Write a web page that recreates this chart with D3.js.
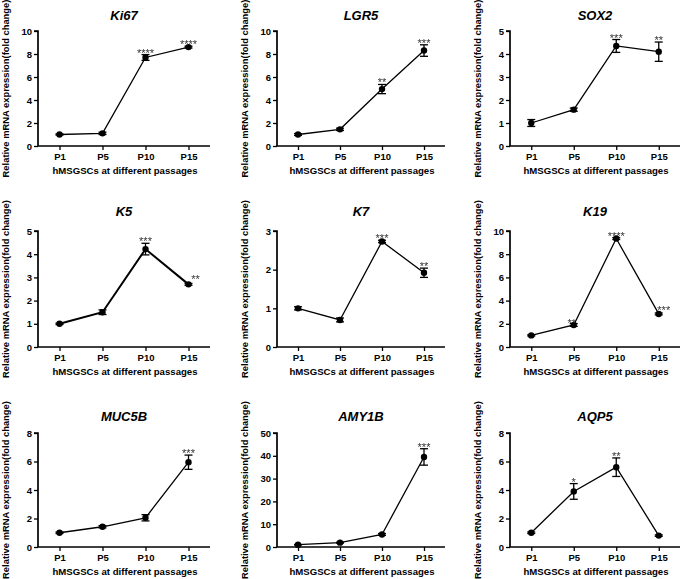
<!DOCTYPE html>
<html><head><meta charset="utf-8">
<script src="https://cdn.jsdelivr.net/npm/d3@7"></script>
<style>
html,body{margin:0;padding:0;background:#fff;}
svg{display:block;font-family:"Liberation Sans",Arial,sans-serif;}
</style></head>
<body>
<svg id="chart" width="685" height="579"></svg>
<script>
// ---------- DATA ----------
const categories = ["P1", "P5", "P10", "P15"];
const genes = ["Ki67", "LGR5", "SOX2", "K5", "K7", "K19", "MUC5B", "AMY1B", "AQP5"];

const ki67Mean  = [1.0, 1.1, 7.7, 8.6];
const ki67Err   = [0.05, 0.1, 0.25, 0.08];
const ki67Sig   = ["", "", "****", "****"];

const lgr5Mean  = [1.0, 1.45, 4.95, 8.3];
const lgr5Err   = [0.08, 0.1, 0.4, 0.5];
const lgr5Sig   = ["", "", "**", "***"];

const sox2Mean  = [1.0, 1.58, 4.35, 4.1];
const sox2Err   = [0.15, 0.07, 0.28, 0.42];
const sox2Sig   = ["", "", "***", "**"];

const k5Mean    = [1.0, 1.5, 4.22, 2.7];
const k5Err     = [0.03, 0.1, 0.25, 0.04];
const k5Sig     = ["", "", "***", "**"];

const k7Mean    = [1.0, 0.7, 2.73, 1.92];
const k7Err     = [0.04, 0.05, 0.03, 0.12];
const k7Sig     = ["", "", "***", "**"];

const k19Mean   = [1.0, 1.9, 9.35, 2.85];
const k19Err    = [0.05, 0.12, 0.08, 0.08];
const k19Sig    = ["", "**", "****", "***"];

const muc5bMean = [1.0, 1.42, 2.05, 5.95];
const muc5bErr  = [0.05, 0.08, 0.22, 0.5];
const muc5bSig  = ["", "", "", "***"];

const amy1bMean = [1.0, 1.9, 5.5, 39.5];
const amy1bErr  = [0.1, 0.2, 0.4, 3.6];
const amy1bSig  = ["", "", "", "***"];

const aqp5Mean  = [1.0, 3.9, 5.6, 0.8];
const aqp5Err   = [0.05, 0.55, 0.65, 0.05];
const aqp5Sig   = ["", "*", "**", ""];

const yMaxes     = [10, 10, 5, 5, 3, 10, 8, 50, 8];
const yTickSteps = [2, 2, 1, 1, 1, 2, 2, 10, 2];

const xAxisLabel = "hMSGSCs at different passages";
const yAxisLabel = "Relative mRNA expression(fold change)";

// ---------- LAYOUT / STYLE ----------
const cols = [
  {x0: 38,  x1: 210, ylab: 5},
  {x0: 277, x1: 445, ylab: 244},
  {x0: 510, x1: 680, ylab: 477}
];
const rows = [
  {top: 31,  base: 146, title: 20},
  {top: 231, base: 347, title: 216},
  {top: 433, base: 547, title: 421}
];
const lineWidths = [1.3, 1.3, 1.3, 2, 1.3, 1.3, 1.3, 1.3, 1.3];
// manual label nudges (panel index -> per-point [dx, dy] in px)
const starNudge = {3: [[0,0],[0,0],[0,0],[7,-2]], 5: [[0,0],[-2,1.5],[0,0],[5,-1]]};

const means = [ki67Mean, lgr5Mean, sox2Mean, k5Mean, k7Mean, k19Mean, muc5bMean, amy1bMean, aqp5Mean];
const errs  = [ki67Err, lgr5Err, sox2Err, k5Err, k7Err, k19Err, muc5bErr, amy1bErr, aqp5Err];
const sigs  = [ki67Sig, lgr5Sig, sox2Sig, k5Sig, k7Sig, k19Sig, muc5bSig, amy1bSig, aqp5Sig];

const svg = d3.select("#chart");
svg.append("defs").append("filter").attr("id", "gray")
  .append("feOffset").attr("dx", 0).attr("dy", 0);

genes.forEach((gene, i) => {
  const c = cols[i % 3], r = rows[Math.floor(i / 3)];
  const g = svg.append("g");
  const x = d3.scalePoint().domain(categories).range([c.x0, c.x1]).padding(0.5);
  const y = d3.scaleLinear().domain([0, yMaxes[i]]).range([r.base, r.top]);
  const ticks = d3.range(0, yMaxes[i] + 1e-9, yTickSteps[i]);

  // y axis
  const ya = g.append("g").attr("transform", `translate(${c.x0},0)`)
    .call(d3.axisLeft(y).tickValues(ticks).tickSize(4).tickPadding(2).tickFormat(d3.format("d")));
  ya.select(".domain").attr("stroke", "#000").attr("stroke-width", 1.7).attr("d", `M-4,${r.top}H0V${r.base}`);
  ya.selectAll(".tick line").attr("stroke", "#000").attr("stroke-width", 1.3);
  ya.selectAll(".tick text").attr("font-size", 9.5).attr("font-weight", "bold")
    .attr("fill", "#000").attr("font-family", "Liberation Sans, Arial, sans-serif");

  // x axis
  const xa = g.append("g").attr("transform", `translate(0,${r.base})`)
    .call(d3.axisBottom(x).tickSize(4).tickPadding(3));
  xa.select(".domain").attr("stroke", "#000").attr("stroke-width", 1.7).attr("d", `M${c.x0},0H${c.x1}`);
  xa.selectAll(".tick line").attr("stroke", "#000").attr("stroke-width", 1.3);
  xa.selectAll(".tick text").attr("font-size", 9.5).attr("font-weight", "bold")
    .attr("fill", "#000").attr("font-family", "Liberation Sans, Arial, sans-serif");

  // title
  g.append("text").attr("x", (c.x0 + c.x1) / 2).attr("y", r.title)
    .attr("text-anchor", "middle").attr("font-size", 13).attr("font-weight", "bold")
    .attr("font-style", "italic").text(gene);

  // x label
  g.append("text").attr("x", (c.x0 + c.x1) / 2 + 1).attr("y", r.base + 28)
    .attr("text-anchor", "middle").attr("font-size", 9.6).attr("font-weight", "bold")
    .text(xAxisLabel);

  // y label
  g.append("text").attr("transform", `translate(${c.ylab + 4},${(r.top + r.base) / 2}) rotate(-90)`)
    .attr("text-anchor", "middle").attr("font-size", 9.4).attr("font-weight", "bold")
    .text(yAxisLabel);

  const pts = categories.map((cat, j) => ({cat, j, v: means[i][j], e: errs[i][j], s: sigs[i][j]}));

  // line
  g.append("path").datum(pts)
    .attr("fill", "none").attr("stroke", "#000").attr("stroke-width", lineWidths[i])
    .attr("d", d3.line().x(d => x(d.cat)).y(d => y(d.v)));

  // error bars
  const eb = g.selectAll(".eb").data(pts).enter().append("g");
  eb.append("line").attr("x1", d => x(d.cat)).attr("x2", d => x(d.cat))
    .attr("y1", d => y(d.v - d.e)).attr("y2", d => y(d.v + d.e))
    .attr("stroke", "#000").attr("stroke-width", 1.3);
  eb.append("line").attr("x1", d => x(d.cat) - 4).attr("x2", d => x(d.cat) + 4)
    .attr("y1", d => y(d.v + d.e)).attr("y2", d => y(d.v + d.e))
    .attr("stroke", "#000").attr("stroke-width", 1.3);
  eb.append("line").attr("x1", d => x(d.cat) - 4).attr("x2", d => x(d.cat) + 4)
    .attr("y1", d => y(d.v - d.e)).attr("y2", d => y(d.v - d.e))
    .attr("stroke", "#000").attr("stroke-width", 1.3);

  // markers
  g.selectAll(".pt").data(pts).enter().append("circle")
    .attr("cx", d => x(d.cat)).attr("cy", d => y(d.v)).attr("r", 3.2).attr("fill", "#000");

  // significance stars
  const nudge = (d, k) => (starNudge[i] ? starNudge[i][d.j][k] : 0);
  g.append("g").attr("filter", "url(#gray)")
    .selectAll(".sig").data(pts.filter(d => d.s)).enter().append("text")
    .attr("x", d => x(d.cat) + nudge(d, 0)).attr("y", d => y(d.v + d.e) + 2 + nudge(d, 1))
    .attr("text-anchor", "middle").attr("font-size", 11).attr("fill", "#333")
    .text(d => d.s);
});
</script>
</body></html>
